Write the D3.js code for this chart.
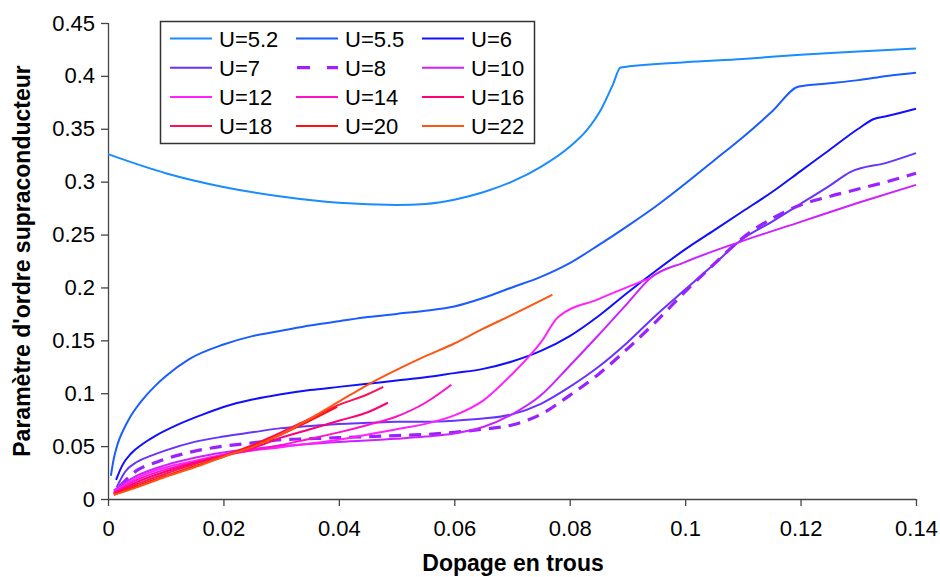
<!DOCTYPE html>
<html>
<head>
<meta charset="utf-8">
<script src="https://cdn.jsdelivr.net/npm/d3@7"></script>
<style>
  body { margin: 0; background: #fff; }
  svg { font-family: "Liberation Sans", Arial, sans-serif; }
  .axis path, .axis line { stroke: #444; stroke-width: 1.3; }
  .axis text { font-size: 22px; fill: #000; }
</style>
</head>
<body>
<svg width="940" height="577"></svg>
<script>
// hole doping (x) / superconducting order parameter (y)
const u52 = [[0,0.326],[0.01,0.308],[0.02,0.295],[0.03,0.286],[0.04,0.280],[0.05,0.278],[0.055,0.279],[0.06,0.283],[0.065,0.290],[0.07,0.300],[0.075,0.314],[0.08,0.333],[0.083,0.349],[0.0855,0.369],[0.0875,0.392],[0.0888,0.408],[0.1,0.413],[0.11,0.416],[0.12,0.420],[0.13,0.423],[0.14,0.426]];
const u55 = [[0.0005,0.022],[0.001,0.038],[0.0015,0.049],[0.002,0.057],[0.003,0.069],[0.004,0.079],[0.005,0.087],[0.006,0.094],[0.008,0.106],[0.01,0.116],[0.014,0.132],[0.02,0.146],[0.025,0.154],[0.03,0.159],[0.035,0.164],[0.04,0.168],[0.045,0.172],[0.05,0.175],[0.055,0.178],[0.06,0.182],[0.065,0.190],[0.07,0.200],[0.075,0.210],[0.08,0.223],[0.085,0.240],[0.09,0.258],[0.095,0.277],[0.1,0.298],[0.105,0.320],[0.11,0.342],[0.115,0.366],[0.1197,0.390],[0.125,0.393],[0.13,0.396],[0.135,0.400],[0.14,0.403]];
const u6 = [[0.0014,0.018],[0.0025,0.032],[0.004,0.043],[0.006,0.052],[0.008,0.059],[0.012,0.070],[0.016,0.079],[0.02,0.087],[0.025,0.094],[0.03,0.099],[0.035,0.103],[0.04,0.106],[0.045,0.109],[0.05,0.112],[0.055,0.115],[0.06,0.119],[0.065,0.123],[0.07,0.130],[0.075,0.140],[0.08,0.154],[0.085,0.173],[0.09,0.195],[0.095,0.216],[0.1,0.236],[0.105,0.254],[0.11,0.272],[0.115,0.290],[0.12,0.310],[0.125,0.330],[0.13,0.350],[0.1326,0.359],[0.135,0.362],[0.14,0.369]];
const u7 = [[0.0015,0.011],[0.003,0.026],[0.005,0.035],[0.0075,0.041],[0.01,0.046],[0.015,0.054],[0.02,0.059],[0.025,0.063],[0.03,0.067],[0.035,0.069],[0.04,0.071],[0.045,0.072],[0.05,0.073],[0.055,0.073],[0.06,0.074],[0.065,0.076],[0.07,0.080],[0.075,0.090],[0.08,0.106],[0.085,0.125],[0.09,0.148],[0.095,0.174],[0.1,0.198],[0.105,0.222],[0.11,0.246],[0.115,0.262],[0.12,0.279],[0.125,0.296],[0.1286,0.309],[0.135,0.318],[0.14,0.327]];
const u8 = [[0.002,0.012],[0.005,0.027],[0.0085,0.035],[0.014,0.044],[0.02,0.050],[0.025,0.053],[0.03,0.056],[0.035,0.057],[0.04,0.058],[0.045,0.059],[0.05,0.060],[0.055,0.061],[0.06,0.063],[0.065,0.066],[0.07,0.070],[0.075,0.080],[0.08,0.098],[0.085,0.118],[0.09,0.142],[0.095,0.168],[0.1,0.196],[0.105,0.222],[0.11,0.247],[0.115,0.265],[0.12,0.278],[0.125,0.286],[0.13,0.293],[0.135,0.300],[0.14,0.308]];
const u10 = [[0.001,0.008],[0.005,0.022],[0.01,0.032],[0.015,0.039],[0.02,0.044],[0.03,0.050],[0.04,0.054],[0.05,0.057],[0.055,0.059],[0.06,0.062],[0.065,0.068],[0.07,0.080],[0.075,0.098],[0.08,0.126],[0.085,0.155],[0.09,0.185],[0.094,0.209],[0.1,0.224],[0.11,0.244],[0.12,0.262],[0.13,0.280],[0.14,0.297]];
const u12 = [[0.001,0.007],[0.005,0.020],[0.01,0.030],[0.015,0.036],[0.02,0.042],[0.03,0.049],[0.04,0.056],[0.05,0.066],[0.055,0.071],[0.06,0.079],[0.065,0.093],[0.07,0.118],[0.075,0.148],[0.078,0.172],[0.085,0.189],[0.094,0.209]];
const u14 = [[0.001,0.006],[0.005,0.018],[0.01,0.028],[0.015,0.035],[0.02,0.041],[0.025,0.046],[0.03,0.051],[0.035,0.057],[0.04,0.063],[0.045,0.070],[0.05,0.078],[0.055,0.091],[0.0595,0.108]];
const u16 = [[0.001,0.005],[0.005,0.016],[0.01,0.026],[0.015,0.034],[0.02,0.041],[0.025,0.048],[0.03,0.058],[0.035,0.066],[0.04,0.074],[0.045,0.082],[0.0485,0.091]];
const u18 = [[0.001,0.005],[0.005,0.014],[0.01,0.024],[0.015,0.033],[0.02,0.041],[0.025,0.051],[0.03,0.063],[0.035,0.076],[0.04,0.089],[0.045,0.099],[0.0477,0.106]];
const u20 = [[0.001,0.004],[0.005,0.012],[0.01,0.022],[0.015,0.031],[0.02,0.040],[0.025,0.050],[0.03,0.061],[0.035,0.074],[0.0397,0.087]];
const u22 = [[0.001,0.004],[0.005,0.011],[0.01,0.021],[0.015,0.030],[0.02,0.040],[0.025,0.049],[0.03,0.061],[0.035,0.076],[0.04,0.092],[0.045,0.108],[0.05,0.122],[0.055,0.135],[0.06,0.147],[0.065,0.161],[0.07,0.174],[0.077,0.193]];

const labels = ["U=5.2","U=5.5","U=6","U=7","U=8","U=10","U=12","U=14","U=16","U=18","U=20","U=22"];
const colors = ["#1a8cff","#1a5cff","#1010ff","#6633ff","#9922ff","#cc22ff","#ff22ff","#ff11cc","#ff0077","#ff1155","#ff1111","#ff5511"];
const seriesData = [u52,u55,u6,u7,u8,u10,u12,u14,u16,u18,u20,u22];
const xTicks = [0,0.02,0.04,0.06,0.08,0.1,0.12,0.14];
const yTicks = [0,0.05,0.1,0.15,0.2,0.25,0.3,0.35,0.4,0.45];

const svg = d3.select('svg');

const x = d3.scaleLinear().domain([0, 0.14]).range([108, 916]);
const y = d3.scaleLinear().domain([0, 0.45]).range([499, 23]);

const fmt = d => String(+d.toFixed(2));

svg.append('g')
  .attr('class', 'axis x-axis')
  .attr('transform', 'translate(0,499)')
  .call(d3.axisBottom(x).tickValues(xTicks).tickFormat(fmt).tickSize(7).tickSizeOuter(0).tickPadding(14));

svg.append('g')
  .attr('class', 'axis y-axis')
  .attr('transform', 'translate(108,0)')
  .call(d3.axisLeft(y).tickValues(yTicks).tickFormat(fmt).tickSize(7).tickSizeOuter(0).tickPadding(6));

svg.select('.x-axis .domain').attr('d', 'M108,0.5H916');
svg.select('.y-axis .domain').attr('d', 'M0.5,499V23');

const line = d3.line()
  .x(d => x(d[0]))
  .y(d => y(d[1]))
  .curve(d3.curveMonotoneX);

svg.selectAll('.series')
  .data(seriesData)
  .enter().append('path')
  .attr('class', 'series')
  .attr('fill', 'none')
  .attr('stroke', (d, i) => colors[i])
  .attr('stroke-width', (d, i) => labels[i] === 'U=8' ? 3.2 : 2)
  .attr('stroke-dasharray', (d, i) => labels[i] === 'U=8' ? '12,8' : null)
  .attr('d', line);

// axis titles
svg.append('text')
  .attr('x', 513).attr('y', 571)
  .attr('text-anchor', 'middle')
  .attr('font-size', 23).attr('font-weight', 'bold')
  .text('Dopage en trous');

svg.append('text')
  .attr('transform', 'translate(30,261) rotate(-90)')
  .attr('text-anchor', 'middle')
  .attr('font-size', 23).attr('font-weight', 'bold')
  .text("Paramètre d'ordre supraconducteur");

// legend
const legend = svg.append('g');
legend.append('rect')
  .attr('x', 160.5).attr('y', 21.5).attr('width', 374).attr('height', 122)
  .attr('fill', '#fff').attr('stroke', '#333').attr('stroke-width', 1.5);

const item = legend.selectAll('.item')
  .data(labels)
  .enter().append('g')
  .attr('class', 'item')
  .attr('transform', (d, i) => `translate(${170 + (i % 3) * 126},${38.5 + Math.floor(i / 3) * 29.2})`);

item.append('line')
  .attr('x1', 0).attr('x2', 42)
  .attr('stroke', (d, i) => colors[i])
  .attr('stroke-width', (d) => d === 'U=8' ? 3.2 : 2)
  .attr('stroke-dasharray', d => d === 'U=8' ? '13,17' : null)
  .attr('stroke-dashoffset', d => d === 'U=8' ? -1 : null);

item.append('text')
  .attr('x', 49).attr('y', 8)
  .attr('font-size', 22)
  .text(d => d);
</script>
</body>
</html>
